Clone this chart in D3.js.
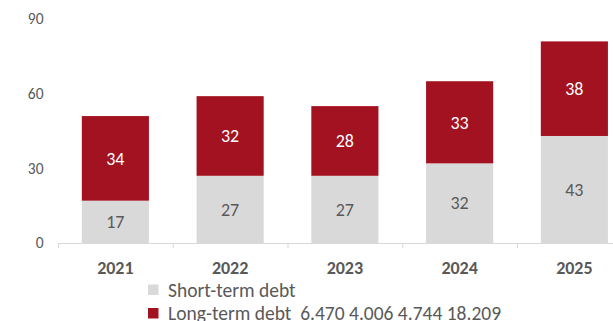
<!DOCTYPE html>
<html>
<head>
<meta charset="utf-8">
<script src="https://cdn.jsdelivr.net/npm/d3@7/dist/d3.min.js"></script>
<style>
  html, body { margin: 0; padding: 0; background: #fff; overflow: hidden; }
  svg { display: block; font-family: Carlito, Lato, "Open Sans", sans-serif; }
</style>
</head>
<body>
<svg id="chart" width="613" height="321"></svg>
<script>
// Debt structure by year (stacked: short-term at the bottom, long-term on top)
const years = ["2021", "2022", "2023", "2024", "2025"];
const shortTerm = [17, 27, 27, 32, 43];
const longTerm = [34, 32, 28, 33, 38];
const yTicks = [0, 30, 60, 90];
const seriesNames = ["Short-term debt", "Long-term debt"];
const legendExtra = ["", "6.470 4.006 4.744 18.209"];

const colors = { short: "#D9D9D9", long: "#A31220", text: "#595959", axis: "#D9D9D9" };

const svg = d3.select("#chart");

const left = 58, step = 114.75;
const x = d3.scaleBand()
  .domain(years)
  .range([left, left + step * years.length])
  .paddingInner(0.415)
  .paddingOuter(0.2075);

const y = d3.scaleLinear().domain([0, 90]).range([243, 19]);

const rows = years.map((yr, i) => ({ year: yr, short: shortTerm[i], long: longTerm[i] }));
const stack = d3.stack().keys(["short", "long"])(rows);

// Y tick labels (no gridlines)
svg.append("g").selectAll("text")
  .data(yTicks).join("text")
  .attr("x", 43.5).attr("y", d => y(d))
  .attr("dy", "0.35em")
  .attr("text-anchor", "end")
  .attr("font-size", 15.5)
  .attr("fill", colors.text)
  .text(d => d);

// Bars
const layer = svg.append("g").selectAll("g")
  .data(stack).join("g")
  .attr("fill", d => d.key === "short" ? colors.short : colors.long);

layer.selectAll("rect")
  .data(d => d).join("rect")
  .attr("x", d => x(d.data.year))
  .attr("width", x.bandwidth())
  .attr("y", d => y(d[1]))
  .attr("height", d => y(d[0]) - y(d[1]));

// Value labels in the middle of each segment
stack.forEach(s => {
  svg.append("g").selectAll("text")
    .data(s).join("text")
    .attr("x", d => x(d.data.year) + x.bandwidth() / 2)
    .attr("y", d => y((d[0] + d[1]) / 2))
    .attr("dy", "0.35em")
    .attr("text-anchor", "middle")
    .attr("font-size", 18)
    .attr("fill", s.key === "short" ? colors.text : "#ffffff")
    .text(d => d.data[s.key]);
});

// X axis line with category boundary ticks
const axisG = svg.append("g");
axisG.append("line")
  .attr("x1", x.range()[0]).attr("x2", x.range()[1])
  .attr("y1", y(0) + 0.5).attr("y2", y(0) + 0.5)
  .attr("stroke", colors.axis).attr("stroke-width", 1);
axisG.selectAll("line.tick")
  .data(d3.range(years.length + 1)).join("line")
  .attr("class", "tick")
  .attr("x1", i => x.range()[0] + i * x.step() + 0.5)
  .attr("x2", i => x.range()[0] + i * x.step() + 0.5)
  .attr("y1", y(0)).attr("y2", y(0) + 5)
  .attr("stroke", colors.axis).attr("stroke-width", 1);

// Year labels
svg.append("g").selectAll("text")
  .data(years).join("text")
  .attr("x", d => x(d) + x.bandwidth() / 2)
  .attr("y", 274)
  .attr("text-anchor", "middle")
  .attr("font-size", 18)
  .attr("font-weight", "bold")
  .attr("fill", colors.text)
  .text(d => d);

// Legend
const legend = svg.append("g").selectAll("g")
  .data(seriesNames).join("g")
  .attr("transform", (d, i) => `translate(148, ${284.5 + i * 23.5})`);
legend.append("rect")
  .attr("width", 10.5).attr("height", 10.5)
  .attr("fill", (d, i) => i === 0 ? colors.short : colors.long);
legend.append("text")
  .attr("x", 20).attr("y", 12)
  .attr("font-size", 19.5)
  .attr("fill", colors.text)
  .attr("xml:space", "preserve")
  .text((d, i) => legendExtra[i] ? d + "  " + legendExtra[i] : d);
</script>
</body>
</html>
